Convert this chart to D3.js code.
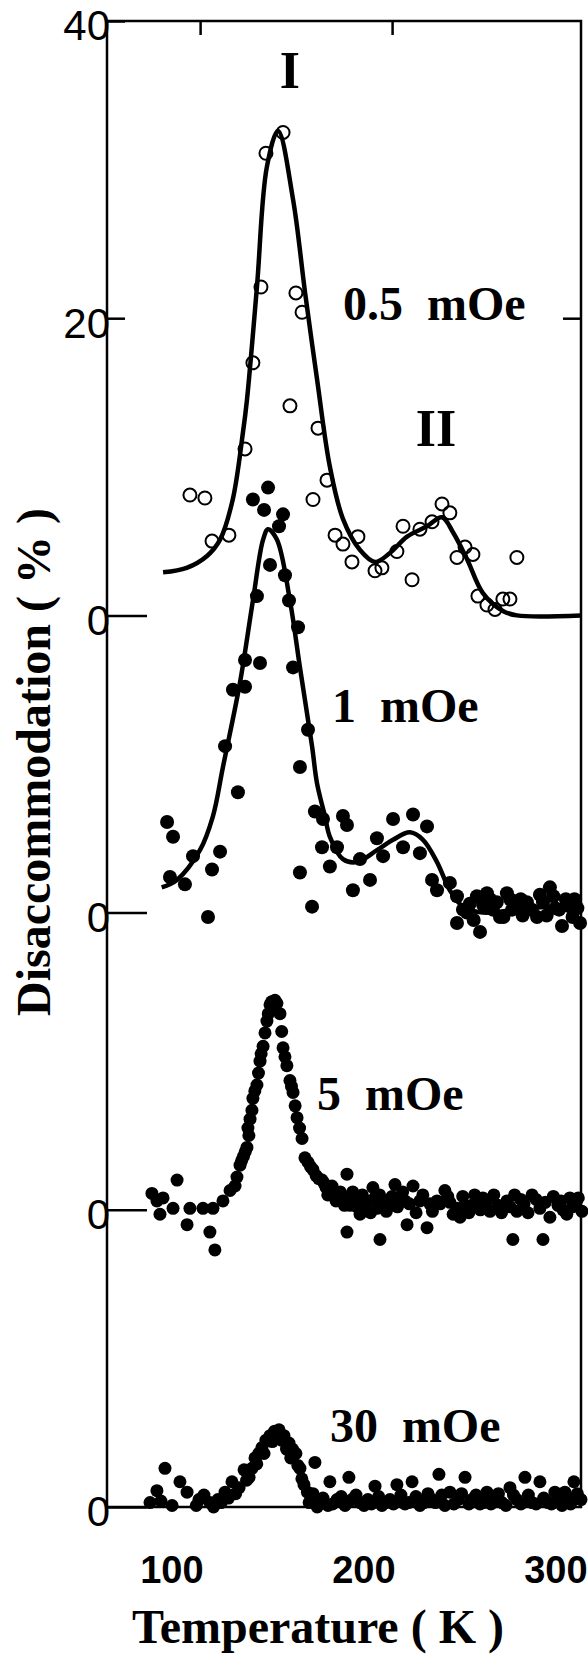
<!DOCTYPE html>
<html>
<head>
<meta charset="utf-8">
<script src="https://cdn.jsdelivr.net/npm/d3@7/dist/d3.min.js"></script>
<style>
  body { margin: 0; background: #fff; }
  svg { display: block; }
</style>
</head>
<body>
<script>
// values: [temperature (K), disaccommodation (%)]
// each panel is shifted down by 20 % on the shared axis

// 0.5 mOe: fitted curve and open circles
const fit05 = [[80.7,2.9],[93,3.2],[103.6,4.0],[110.4,5.1],[117,7.8],[122.3,12.3],[124.4,14.5],[129.6,22.1],[134.8,30.2],[140.6,32.6],[148.4,28.0],[154.7,21.7],[160.9,15.9],[167.6,10.0],[174.4,6.5],[183.3,4.4],[191.1,3.6],[198.9,4.2],[207.8,5.3],[218.2,6.0],[226,6.6],[231.7,5.6],[239,3.8],[247.3,1.5],[257.7,0.3],[265,0],[298.4,0]];
const pts05 = [[143.2,32.5],[134.3,31.1],[131.7,22.1],[149.9,21.7],[153.1,20.4],[127.5,17.0],[146.8,14.1],[123.4,11.2],[102.5,7.9],[94.7,8.1],[106.2,5.0],[115.0,5.4],[161.4,12.6],[166.1,9.1],[158.8,7.8],[170.3,5.4],[182.2,5.3],[174.4,4.8],[179.1,3.6],[191.1,3.0],[194.7,3.2],[202.5,4.3],[205.7,6.0],[210.4,2.4],[214.5,5.8],[220.8,6.3],[226,7.5],[230.1,6.9],[233.8,3.9],[238,4.6],[242.1,4.1],[244.7,1.3],[249.4,0.7],[253.6,0.4],[257.7,1.1],[261.4,1.1],[265,3.9]];

// 1 mOe: fitted curve and filled circles
const fit1 = [[80,1.7],[87.9,2.2],[99.9,4.2],[106.7,6.5],[111.9,9.8],[120.8,15.5],[127.5,21.0],[132.8,25.1],[135.4,25.8],[140.0,25.1],[146.8,21.0],[152.0,16.5],[158.3,11.2],[160.9,8.7],[165.0,6.5],[167.6,5.1],[174.4,3.6],[181.7,3.4],[192.1,4.2],[200.5,4.9],[209.3,5.4],[216.1,4.9],[223.4,3.4],[230.1,1.5],[236.9,0.4],[247.3,0],[265,0.2],[282.2,0.4],[297.9,0.2]];
const pts1 = [[135.4,28.6],[127.5,27.8],[133.3,27.1],[143.2,26.8],[141.1,26.0],[136.4,23.4],[144.2,22.7],[129.6,21.3],[146.3,21.0],[151.0,19.2],[148.4,16.5],[123.4,17.0],[131.2,16.8],[117.1,15.0],[123.4,15.2],[113.0,11.2],[119.7,8.1],[82.8,6.1],[85.9,5.1],[96.3,3.8],[110.4,4.1],[106.2,2.9],[84.3,2.4],[92.1,1.9],[104.1,-0.3],[152.0,9.8],[156.2,12.3],[152.0,2.7],[159.8,6.8],[164.0,6.3],[174.4,6.5],[176.5,5.9],[163.5,4.4],[171.3,4.4],[167.6,3.1],[158.3,0.4],[179.6,1.5],[188.5,2.2],[183.3,3.6],[192.1,5.0],[195.3,3.8],[200.5,6.3],[210.9,6.6],[218.2,5.8],[205.7,4.4],[214.5,4.0],[220.8,2.2],[223.4,1.5],[230.1,2.0],[233.8,1.1],[236.9,0.2],[240.5,0.6],[244.2,1.1],[249.4,1.3],[233.8,-0.7],[245.8,-1.3],[252.5,0.2],[256.2,-0.3],[259.8,1.3],[262.5,0.2],[265.0,0.4],[268,-0.2],[270.2,0.7],[275.5,-0.3],[278.6,0.7],[282.2,1.7],[285,0.3],[288.5,-0.9],[292.7,0.4],[295,0.9],[297.9,-0.7],
    [239,0.0],[242.5,-0.5],[247.5,0.5],[251,0.9],[254.5,0.7],[258,-0.3],[261.5,0.9],[267,0.9],[272.8,0.2],[277,1.2],[280.5,-0.2],[284,1.1],[287,0.2],[290.5,0.9],[294,-0.3],[296.5,0.3]];

// 5 mOe: filled circles
const pts5 = [[74.9,1.1],[77.5,0.6],[80.7,0.8],[79.1,-0.3],[85.9,0.1],[88.0,2.0],[94.7,0.1],[93.2,-1.0],[101.5,0.1],[105.1,-1.5],[107.7,-2.7],[106.7,0.1],[111.9,0.6],[115.6,1.3],[118.2,1.6],[119.2,2.2],[120.8,3.0],[122.6,3.6],[124.4,4.2],[124.9,5.5],[126,6.1],[127.0,6.7],[127.5,7.5],[129.6,8.4],[130.4,9.2],[131.2,10.0],[132.8,11.0],[133.8,11.9],[134.8,12.7],[136.4,13.8],[138.0,13.6],[140,13.9],[141.6,13.2],[142.5,12.0],[143.2,10.9],[145.2,9.7],[146.8,8.7],[148.4,7.9],[149.5,7.0],[150.5,6.2],[153.1,4.8],[154.6,3.5],[156.2,3.2],[158.8,2.7],[160.4,2.3],[163.5,2.0],[165.6,1.5],[167.6,1.3],[169.7,1.1],[171.8,0.8],[174.4,0.7],[176.5,2.4],[178.1,0.3],[180.7,0.5],[183.3,-0.3],[185.9,0.4],[190.0,1.5],[192.1,0.1],[195.8,0.5],[198.9,0.3],[201.5,1.7],[204.1,0.5],[206.7,0.6],[207.8,-1.0],[210.9,1.6],[214.5,0.6],[218.2,-1.2],[219.7,0.4],[223.4,0.6],[227.5,1.3],[230.1,0.5],[233.8,0.1],[235.4,-0.5],[238,0.3],[241.6,0.3],[244.2,0.5],[247.3,0.8],[251.0,-0.1],[255.1,0.3],[259.8,0.6],[265.0,-0.1],[268.7,0.4],[272.9,1.0],[277.0,0.1],[282.2,-0.5],[286.4,0.3],[289.0,0],[292.6,0.8],[295.8,0.5],[298.9,-0.1],[176.5,-1.5],[193.7,-2.0],[262.9,-2.0],[278.6,-2.0],
    [121.6,3.3],[123.5,3.9],[125.4,5.0],[128.5,8.0],[131.8,10.5],[135.5,13.2],[137.2,14.0],[139.0,14.1],[144.2,10.3],[147.6,8.3],[151.8,5.5],
    [157.5,2.9],[161.8,2.1],[164.5,1.8],[166.5,1.0],[168.7,1.6],[170.8,0.6],[173.0,1.2],[175.2,0.3],[177.3,0.9],[179.5,1.2],[181.8,0.2],[184.5,1.0],[187.0,0.6],[188.8,-0.2],[191.0,0.8],[193.5,1.0],[197.0,-0.1],[200.0,0.9],[202.8,0.2],[205.5,1.2],[209.0,0.4],[212.5,-0.2],[216.0,1.0],[221.0,-0.1],[225.0,0.4],[229.0,0.9],[231.8,-0.3],[236.8,0.9],[240.0,-0.2],[243.0,1.0],[246.0,0.0],[249.2,0.6],[253.0,1.0],[257.0,-0.2],[261.5,0.2],[263.8,1.0],[267.0,0.7],[270.8,-0.2],[275.0,0.7],[279.8,0.5],[284.0,0.9],[288.0,0.6],[291.0,-0.3],[294.0,0.2],[297.0,0.8]];

// 30 mOe: filled circles
const pts30 = [[73.9,0.3],[77.5,1.1],[79.6,0.4],[81.7,2.6],[85.4,0.1],[89.5,1.7],[93.2,1.0],[99.4,0.5],[105.1,0.3],[109.3,0.5],[113.0,1.0],[116.6,1.7],[120.3,1.3],[122.9,2.5],[125.5,2.0],[128.6,3.3],[130.5,3.6],[132.2,4.0],[134.3,4.5],[136.4,4.8],[138.8,5.1],[141.1,5.2],[143.7,4.8],[146.3,4.3],[148.1,3.9],[149.9,3.6],[152.0,2.6],[154.1,1.5],[155.9,1.0],[157.8,0.5],[159.8,3.0],[162.4,0.3],[166.6,0.1],[167.6,1.7],[171.3,0.5],[175.5,0.1],[177.5,2.0],[179.1,0.5],[183.3,0.3],[187.4,0.5],[191.1,1.4],[194.7,0.1],[198.9,0.5],[202.5,1.5],[206.7,0.2],[210.4,1.7],[212.4,0.7],[216.6,0.3],[220.8,0.5],[224.4,2.2],[227.5,0.1],[230.1,1.0],[234.3,0.5],[238.0,2.0],[241.6,0.5],[245.8,0.2],[249.4,1.0],[253.6,0.6],[257.2,0.3],[261.4,1.3],[265.0,0.5],[269.2,2.0],[272.9,0.3],[277.0,1.7],[281.2,0.3],[284.8,1.0],[288.5,0.1],[291.6,0.5],[294.7,1.7],[298.4,0.5],
    [98,0.1],[102,0.8],[107,0.0],[111,0.3],[114.8,0.6],[118.5,0.9],[124.2,1.8],[127.0,2.6],[129.5,2.9],[133.3,3.6],[137.6,4.4],[140.0,4.9],[142.4,4.5],[145.0,3.9],[147.2,3.3],[150.9,2.8],[153.0,1.9],[156.8,0.3],[158.8,0.9],[161.0,0.0],[164.0,0.6],[169.0,0.2],[173.5,0.7],[176.5,0.3],[181.2,0.8],[185.4,0.1],[189.2,0.2],[193.0,0.7],[196.8,0.3],[200.7,0.2],[204.6,0.8],[208.5,0.3],[214.5,0.1],[218.7,0.9],[222.6,0.3],[225.9,0.8],[232.2,0.2],[236.2,0.9],[240.0,0.2],[243.7,0.8],[247.6,0.3],[251.5,0.2],[255.4,0.9],[259.3,0.1],[263.2,0.8],[267.1,0.2],[271.0,0.8],[275.0,0.2],[279.0,0.6],[283.0,0.2],[286.7,0.5],[290.0,1.0],[293.0,0.2],[296.5,0.9]];

const panelOffsets = [0, -20, -40, -60];

// axis ticks
const yTicks = [40, 20, 0, -20, -40, -60];
const yTickLabels = ["40", "20", "0", "0", "0", "0"];
const xTicks = [100, 200, 300];
const topTicks = [100, 200];
const rightTicks = [20];

// text on the plot: [text, temperature, level, anchor]
const annotations = [
    ["I", 146.8, 35.5, "middle"],
    ["0.5  mOe", 174.4, 19.9, "start"],
    ["II", 222.9, 11.4, "middle"],
    ["1  mOe", 168.7, -7.2, "start"],
    ["5  mOe", 160.9, -33.3, "start"],
    ["30  mOe", 167.6, -55.6, "start"]
];

let canvas_width = 588, canvas_height = 1664;
let serif = "'Liberation Serif', 'Times New Roman', serif";
let sans = "'Liberation Sans', Arial, sans-serif";

let x = d3.scaleLinear().domain([51.5, 298.4]).range([107, 581]);
let y = d3.scaleLinear().domain([-60, 40]).range([1507, 21]);

let svg = d3.select("body").append("svg")
    .attr("width", canvas_width)
    .attr("height", canvas_height);

// frame
svg.append("rect")
    .attr("x", x.range()[0]).attr("y", y.range()[1])
    .attr("width", x.range()[1] - x.range()[0])
    .attr("height", y.range()[0] - y.range()[1])
    .attr("fill", "none").attr("stroke", "#000").attr("stroke-width", 2.5);

// left axis: labels + inward ticks (long ones at each panel's zero)
let left_axis = svg.append("g")
    .attr("transform", `translate(${x.range()[0]},0)`)
    .call(d3.axisLeft(y).tickValues(yTicks).tickFormat((d, i) => yTickLabels[i]).tickSize(0).tickPadding(-3));
left_axis.select(".domain").remove();
left_axis.selectAll(".tick line")
    .attr("x2", d => d > 0 ? 18 : 40)
    .attr("stroke", "#000").attr("stroke-width", 2.5);
left_axis.selectAll(".tick text")
    .attr("dy", "0.45em")
    .style("font-family", sans).style("font-size", "42px").attr("fill", "#000");

// top axis ticks, pointing in
let top_axis = svg.append("g")
    .attr("transform", `translate(0,${y.range()[1]})`)
    .call(d3.axisTop(x).tickValues(topTicks).tickFormat("").tickSize(-14));
top_axis.select(".domain").remove();
top_axis.selectAll(".tick line").attr("stroke", "#000").attr("stroke-width", 2.5);

// right axis ticks
let right_axis = svg.append("g")
    .attr("transform", `translate(${x.range()[1]},0)`)
    .call(d3.axisRight(y).tickValues(rightTicks).tickFormat("").tickSize(-18));
right_axis.select(".domain").remove();
right_axis.selectAll(".tick line").attr("stroke", "#000").attr("stroke-width", 2.5);

// bottom labels (no tick marks), right-aligned on the tick position
let bottom_axis = svg.append("g")
    .attr("transform", `translate(0,${y.range()[0]})`)
    .call(d3.axisBottom(x).tickValues(xTicks).tickFormat(d3.format("d")).tickSize(0));
bottom_axis.select(".domain").remove();
bottom_axis.selectAll(".tick text")
    .attr("y", 76).attr("dy", 0).attr("dx", 3)
    .attr("text-anchor", "end")
    .style("font-family", sans).style("font-size", "38px").style("font-weight", "bold")
    .attr("fill", "#000");

// fitted curves
function curve(off) {
    return d3.line()
        .x(d => x(d[0]))
        .y(d => y(d[1] + off))
        .curve(d3.curveCatmullRom.alpha(0.5));
}

svg.append("path").datum(fit05)
    .attr("d", curve(panelOffsets[0]))
    .attr("fill", "none").attr("stroke", "#000").attr("stroke-width", 4.5);

svg.append("path").datum(fit1)
    .attr("d", curve(panelOffsets[1]))
    .attr("fill", "none").attr("stroke", "#000").attr("stroke-width", 4.5);

// open circles for 0.5 mOe
svg.append("g").selectAll("circle")
    .data(pts05)
    .join("circle")
    .attr("cx", d => x(d[0]))
    .attr("cy", d => y(d[1] + panelOffsets[0]))
    .attr("r", 6.5)
    .attr("fill", "none").attr("stroke", "#000").attr("stroke-width", 2);

// filled circles for the other fields
[pts1, pts5, pts30].forEach((pts, i) => {
    svg.append("g").selectAll("circle")
        .data(pts)
        .join("circle")
        .attr("cx", d => x(d[0]))
        .attr("cy", d => y(d[1] + panelOffsets[i + 1]))
        .attr("r", i == 0 ? 7 : 6.5)
        .attr("fill", "#000");
});

// peak and field labels
svg.append("g").selectAll("text")
    .data(annotations)
    .join("text")
    .attr("x", d => x(d[1]))
    .attr("y", d => y(d[2]))
    .attr("text-anchor", d => d[3])
    .style("white-space", "pre")
    .style("font-family", serif).style("font-weight", "bold")
    .style("font-size", d => d[0].length <= 2 ? "52px" : "48px")
    .text(d => d[0]);

// axis titles
svg.append("text")
    .attr("transform", "translate(50,762) rotate(-90)")
    .attr("text-anchor", "middle")
    .style("white-space", "pre")
    .style("font-family", serif).style("font-weight", "bold").style("font-size", "48px")
    .text("Disaccommodation ( % )");

svg.append("text")
    .attr("x", 318).attr("y", 1643)
    .attr("text-anchor", "middle")
    .style("white-space", "pre")
    .style("font-family", serif).style("font-weight", "bold").style("font-size", "48px")
    .text("Temperature ( K )");
</script>
</body>
</html>
